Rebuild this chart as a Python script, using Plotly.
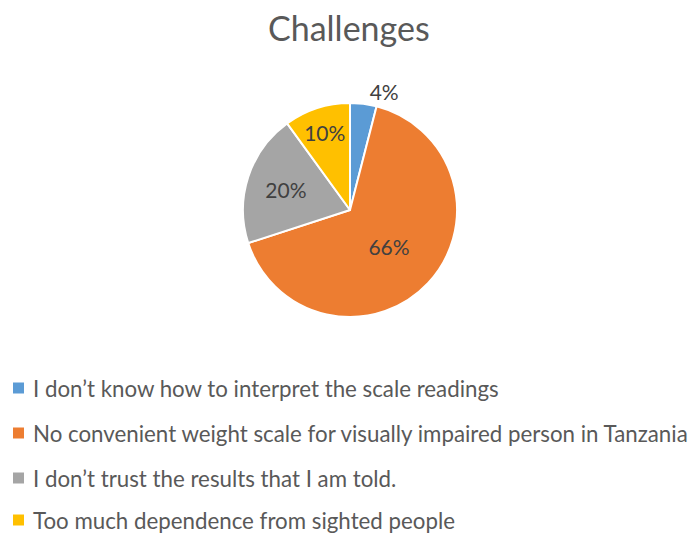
import plotly.graph_objects as go

categories = [
    "I don\u2019t know how to interpret the scale readings",
    "No convenient weight scale for visually impaired person in Tanzania",
    "I don\u2019t trust the results that I am told.",
    "Too much dependence from sighted people",
]
values = [4, 66, 20, 10]
colors = ["#5B9BD5", "#ED7D31", "#A5A5A5", "#FFC000"]
title_text = "Challenges"

W, H = 693, 535
FONT = "Lato, 'Open Sans', sans-serif"


def px(X):
    return X / W


def py(Y):
    return 1 - Y / H


cx, cy, r = 350, 210, 107

fig = go.Figure()
fig.add_trace(go.Pie(
    labels=categories,
    values=values,
    sort=False,
    direction="clockwise",
    rotation=0,
    marker=dict(colors=colors, line=dict(color="white", width=2)),
    texttemplate="%{value}%",
    textposition=["outside", "inside", "inside", "inside"],
    insidetextorientation="horizontal",
    textfont=dict(family=FONT, size=21, color="#404040"),
    outsidetextfont=dict(family=FONT, size=21, color="#404040"),
    showlegend=False,
    hoverinfo="label+percent",
    domain=dict(x=[px(cx - r), px(cx + r)], y=[py(cy + r), py(cy - r)]),
))

# legend drawn manually below the pie
legend_y = [388, 433, 478, 520]
annotations = [dict(
    text=title_text, x=px(349), y=py(28), xref="paper", yref="paper",
    xanchor="center", yanchor="middle", showarrow=False,
    font=dict(family=FONT, size=34, color="#595959"),
)]
shapes = []
for name, col, ly in zip(categories, colors, legend_y):
    annotations.append(dict(
        text=name, x=px(31), y=py(ly), xref="paper", yref="paper",
        xanchor="left", yanchor="middle", showarrow=False,
        font=dict(family=FONT, size=22.3, color="#595959"),
    ))
    shapes.append(dict(
        type="rect", xref="paper", yref="paper",
        x0=px(13), x1=px(24), y0=py(ly + 5.5), y1=py(ly - 5.5),
        fillcolor=col, line=dict(width=0),
    ))

fig.update_layout(
    width=W, height=H,
    margin=dict(l=0, r=0, t=0, b=0),
    paper_bgcolor="white",
    plot_bgcolor="white",
    annotations=annotations,
    shapes=shapes,
    font=dict(family=FONT, color="#595959"),
)

fig.write_html(
    "out.html",
    config={"displayModeBar": False},
    post_script="document.body.style.margin='0';document.body.style.overflow='hidden';",
)
